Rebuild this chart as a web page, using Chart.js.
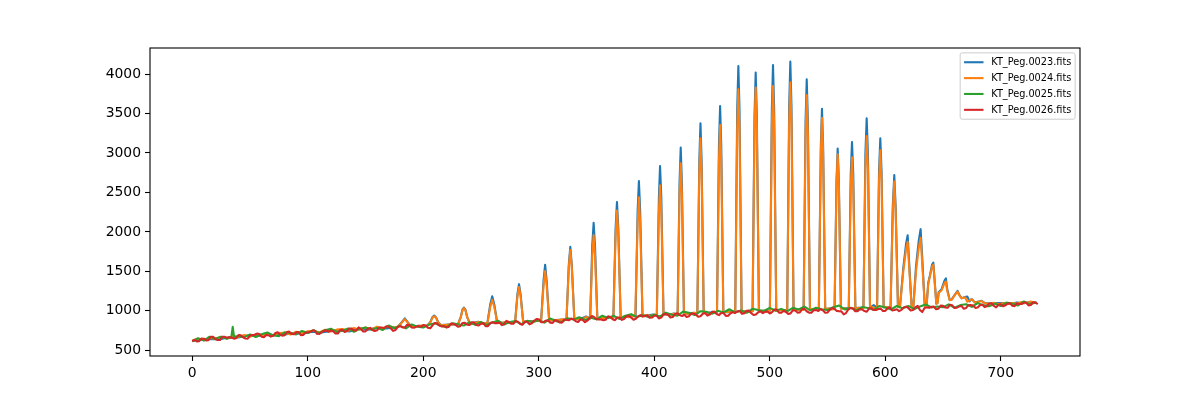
<!DOCTYPE html>
<html><head><meta charset="utf-8">
<script src="https://cdn.jsdelivr.net/npm/chart.js@4.4.0/dist/chart.umd.min.js"></script>
<style>html,body{margin:0;padding:0;background:#fff}canvas{display:block}</style>
</head><body>
<canvas id="c" width="1200" height="400"></canvas>
<script>
// ---------- data ----------
const seriesNames = ["KT_Peg.0023.fits", "KT_Peg.0024.fits", "KT_Peg.0025.fits", "KT_Peg.0026.fits"];
const xTicks = [0, 100, 200, 300, 400, 500, 600, 700];
const yTicks = [500, 1000, 1500, 2000, 2500, 3000, 3500, 4000];

// KT_Peg.0026 (red), sampled every 2 pixels
const redStep = 2;
const redValues = [
  615,632,612,616,650,647,626,629,672,672,644,631,630,672,672,657,666,661,648,654,
  693,690,665,650,647,687,695,696,712,706,673,665,695,692,674,683,719,729,699,686,
  692,732,737,706,705,727,732,692,693,724,728,733,750,750,709,707,730,746,754,735,
  751,742,712,712,756,760,733,746,775,775,750,751,791,772,739,740,770,784,758,745,
  753,790,790,782,805,799,775,746,758,796,807,791,788,824,819,790,785,800,808,797,
  821,814,785,779,817,845,841,813,802,809,790,795,838,837,822,799,805,847,849,825,
  821,856,855,820,815,838,844,805,806,845,856,844,844,852,819,834,873,859,837,836,
  870,863,834,825,861,861,829,843,874,897,894,856,857,875,879,849,848,881,874,852,
  851,887,888,880,902,894,869,859,890,887,856,875,907,934,920,894,892,890,881,888,
  930,922,893,882,916,916,885,900,932,936,915,888,900,930,947,927,936,944,913,915,
  938,939,904,915,956,962,950,916,922,959,969,946,935,950,923,932,965,963,953,925,
  931,963,973,940,952,987,990,960,946,972,972,936,939,968,983,974,993,997,962,971,
  1000,1003,970,947,954,983,994,971,988,991,966,985,1016,1017,976,976,1001,985,961,968,
  1009,1004,978,979,1024,1025,995,977,976,1007,1012,998,1023,1006,976,980,1012,1037,1023,1000,
  996,993,955,972,1018,1035,1033,995,996,1021,1017,997,988,1032,1033,1010,1010,1023,1028,997,
  999,1033,1044,1006,1012,1021,997,1012,1043,1053,1036,1004,1010,1044,1063,1010,985,1035,1044,1038,
  1052,1054,1020,1028,1066,1063,1042,1039,1076,1070,1036,1040,1056,1062,1026,1037,1072,1074,1068,1038,
  1042,1072,1080,1047,1058,1093,1096,1062,1044,1077,1084,1058,1070,1091,1098,1065,1060,1093,1086,1086,
  1105,1105,1069,1074,1109,1106,1085
];

// KT_Peg.0025 (green), sampled every 5 pixels, plus its narrow spike
const greenStep = 5;
const greenValues = [
  615,653,624,672,647,672,645,668,681,667,
  702,668,704,726,690,680,728,719,701,745,
  719,755,716,754,774,732,749,777,735,774,
  788,760,784,758,814,780,810,778,828,800,
  788,825,842,811,793,842,829,814,856,823,
  858,823,852,873,826,857,871,830,873,858,
  881,851,904,870,858,907,889,919,885,914,
  892,938,909,937,897,938,958,922,943,921,
  952,930,977,951,938,990,975,947,996,988,
  963,1000,979,1020,979,1004,975,1026,1011,998,
  1037,1001,1025,992,1038,1018,1054,1006,1039,1019,
  1010,1047,1068,1017,1040,1007,1048,1037,1014,1062,
  1042,1017,1062,1033,1062,1021,1056,1081,1042,1056,
  1046,1082,1039,1073,1084,1050,1098,1069,1059,1092,
  1061,1105,1090,1068,1119,1085,1103
];
const greenSpike = [[33.8, 668], [35, 798], [36.2, 670]];

// KT_Peg.0024 (orange), [pixel, counts]
const orangePoints = [
  [0,620],[5,648],[10,628],[15,655],[20,648],[25,672],[30,652],[35,680],[40,668],[45,695],[50,672],[55,705],[60,683],[65,712],[70,690],[75,718],[80,722],[85,700],[90,735],[95,712],[100,742],[105,748],[110,725],[115,760],[120,738],[125,762],[130,770],[135,748],[140,782],[145,760],[150,790],[155,766],[160,800],[165,775],[170,806],[175,790],
  [178,800],[180.5,835],[182,860],[184,895],[186,860],[188.5,815],[191,800],[195,808],[200,815],
  [203.5,812],[206,850],[208,915],[209.5,932],[211,915],[213,850],[215.5,818],[220,822],[225,830],[229,826],
  [230,828],[232.5,920],[234,1010],[235.2,1035],[236.5,1010],[238,920],[240.5,832],[244,838],[247.5,860],[251,838],[254,845],
  [255.5,845],[258,1050],[259.7,1140],[261.5,1050],[264,850],[268,848],[272,858],[276,852],[279,860],
  [279.5,860],[281.5,1180],[282.9,1302],[284.3,1180],[286.5,862],[290,870],[294,862],[298,875],[301.5,870],
  [302,872],[304.2,1330],[305.5,1505],[306.8,1330],[309,876],[313,888],[317,880],[320,892],[323.5,886],
  [324,888],[326,1550],[327.3,1770],[328.6,1550],[330.8,892],[334,900],[338,893],[341,925],[344,902],
  [344.5,903],[346.3,1700],[347.5,1960],[348.7,1700],[350.7,905],[354,912],[358,905],[361,918],[364,914],
  [364.6,914],[366.5,1950],[367.7,2270],[368.9,1950],[370.9,920],[374,928],[378,920],[381,934],[383.5,930],
  [383.8,930],[385.6,2100],[386.7,2440],[387.8,2100],[389.8,935],[393,945],[397,938],[400,950],
  [402.2,944],[404,2250],[405,2590],[406.1,2250],[408,950],[411,957],[414,950],[417,962],
  [420.2,955],[421.9,2480],[422.9,2870],[423.9,2480],[425.7,962],[429,968],[432,960],[435,975],
  [437.3,966],[439,2750],[440,3185],[441,2750],[442.8,970],[446,978],[449,970],[452,982],
  [454.3,975],[456,2900],[457,3355],[458,2900],[459.8,980],[463,988],[466,978],[468.5,990],
  [470.1,982],[471.8,3300],[472.8,3806],[473.8,3300],[475.6,986],[478.5,995],[481.5,986],
  [485.1,992],[486.8,3320],[487.8,3828],[488.8,3320],[490.6,995],[494,1002],[497,992],
  [500.1,1000],[501.8,3340],[502.8,3849],[503.8,3340],[505.6,1003],[509,1010],[512,1000],
  [515.1,1008],[516.8,3380],[517.8,3896],[518.8,3380],[520.6,1010],[523.5,1018],[526.5,1006],
  [529.3,1014],[531,3240],[532,3735],[533,3240],[534.8,1016],[538,1022],[540.5,1012],
  [542.5,1020],[544.2,2990],[545.2,3445],[546.2,2990],[548,1022],[551,1030],[553.5,1018],
  [556.1,1025],[557.8,2600],[558.8,2985],[559.8,2600],[561.6,1028],[564.5,1034],[566,1022],
  [568.4,1030],[570.1,2560],[571.2,2945],[572.3,2560],[574.1,1033],[577,1040],[579,1028],
  [581.1,1036],[582.8,2800],[583.9,3215],[585,2800],[586.8,1040],[589.5,1046],[591,1032],
  [592.9,1040],[594.6,2640],[595.7,3035],[596.8,2640],[598.6,1045],[601,1048],[603,1038],
  [604.6,1045],[606.5,2250],[607.8,2637],[609,2250],[611,1050],
  [612.7,1046],[615.6,1500],[618,1780],[619.4,1875],[620.5,1600],[622.8,1055],
  [624.3,1050],[626.6,1500],[629,1800],[630.6,1925],[631.8,1650],[634.2,1062],
  [635.8,1070],[637.2,1340],[638.7,1440],[640.5,1560],[641.6,1585],[642.6,1400],[644.2,1090],
  [645.3,1100],[646.2,1225],[648.8,1262],[651.3,1350],[652.5,1372],[653.5,1260],[655.8,1135],
  [657.4,1140],[660,1195],[662.6,1245],[664,1200],[666.1,1158],[669,1172],[671,1115],[674.8,1148],[677.7,1104],[680.5,1112],[683.4,1125],[686.3,1095],
  [690,1090],[694,1102],[698,1085],[702,1096],[706,1088],[710,1100],[714,1090],[718,1112],[722,1098],[726,1118],[730,1102]
];

// KT_Peg.0023 (blue), [pixel, counts]
const bluePoints = [
  [0,618],[8,638],[16,645],[24,640],[32,666],[40,662],[48,688],[56,680],[64,698],[72,690],[80,702],[88,718],[96,712],[104,735],[112,726],[120,744],[128,752],[136,738],[144,772],[152,762],[160,785],[168,778],[176,792],
  [178,800],[180.5,840],[182,868],[184,905],[186,866],[188.5,818],[191,802],[196,812],[201,808],
  [203.5,815],[206,855],[208,922],[209.5,940],[211,920],[213,852],[215.5,820],[222,825],[229,830],
  [230,830],[232.5,925],[234,1018],[235.2,1042],[236.5,1015],[238,922],[240.5,835],[247.5,862],[252,836],
  [255.5,846],[258,1085],[259.7,1185],[261.5,1080],[264,852],[270,850],[276,856],
  [279.5,858],[281.5,1210],[282.9,1338],[284.3,1205],[286.5,860],[292,868],[298,872],
  [302,874],[304.2,1395],[305.5,1585],[306.8,1390],[309,878],[315,885],[321,890],
  [324,890],[326,1585],[327.3,1812],[328.6,1580],[330.8,894],[336,896],[341,928],
  [344.5,905],[346.3,1830],[347.5,2115],[348.7,1825],[350.7,908],[356,910],[361,920],
  [364.6,916],[366.5,2040],[367.7,2380],[368.9,2035],[370.9,922],[376,925],[380,936],
  [383.8,932],[385.6,2270],[386.7,2645],[387.8,2265],[389.8,938],[395,944],[399,952],
  [402.2,946],[404,2440],[405,2835],[406.1,2435],[408,952],[413,955],[417,966],
  [420.2,958],[421.9,2640],[422.9,3070],[423.9,2635],[425.7,965],[431,966],[434,975],
  [437.3,968],[439,2910],[440,3375],[441,2905],[442.8,972],[447,976],[451,984],
  [454.3,978],[456,3100],[457,3595],[458,3095],[459.8,982],[464,984],[467,994],
  [470.1,985],[471.8,3550],[472.8,4102],[473.8,3545],[475.6,988],[480,994],
  [485.1,995],[486.8,3480],[487.8,4018],[488.8,3475],[490.6,998],[495,1000],
  [500.1,1002],[501.8,3560],[502.8,4115],[503.8,3555],[505.6,1005],[510,1008],
  [515.1,1010],[516.8,3600],[517.8,4157],[518.8,3595],[520.6,1012],[525,1015],
  [529.3,1016],[531,3410],[532,3934],[533,3405],[534.8,1018],[539,1020],
  [542.5,1022],[544.2,3090],[545.2,3560],[546.2,3085],[548,1024],[552,1028],
  [556.1,1027],[557.8,2660],[558.8,3055],[559.8,2655],[561.6,1030],[565,1032],
  [568.4,1032],[570.1,2730],[571.2,3140],[572.3,2725],[574.1,1035],[578,1038],
  [581.1,1038],[582.8,2990],[583.9,3438],[585,2985],[586.8,1042],[590,1072],
  [592.9,1042],[594.6,2770],[595.7,3186],[596.8,2765],[598.6,1046],[602,1045],
  [604.6,1046],[606.5,2320],[607.8,2721],[609,2315],[611,1052],
  [612.7,1048],[615.6,1540],[618,1850],[619.4,1958],[620.5,1660],[622.8,1057],
  [624.3,1052],[626.6,1560],[629,1890],[630.6,2035],[631.8,1730],[634.2,1064],
  [635.8,1072],[637.2,1355],[638.7,1452],[640.5,1585],[641.6,1612],[642.6,1415],[644.2,1092],
  [645.3,1102],[646.2,1235],[648.8,1275],[651.3,1385],[652.5,1412],[653.5,1285],[655.8,1138],
  [657.4,1142],[660,1200],[662.6,1252],[664,1205],[666.1,1160],[669,1175],[671,1182],[673,1120],[674.8,1150],[677.7,1106],[683.4,1128],[686.3,1098],
  [690,1094],[696,1100],[702,1098],[708,1086],[714,1105],[720,1096],[726,1112],[731,1104]
];

// ---------- styles ----------
const colors = ["#1f77b4", "#ff7f0e", "#2ca02c", "#d62728"];
const FONT = '"DejaVu Sans", "Liberation Sans", sans-serif';

const pairsToXY = p => p.map(([x, y]) => ({x, y}));
const stepToXY = (vals, step) => vals.map((v, i) => ({x: i * step, y: v}));
const greenData = stepToXY(greenValues, greenStep)
  .filter(p => !greenSpike.some(s => s[0] === p.x))
  .concat(pairsToXY(greenSpike))
  .sort((a, b) => a.x - b.x);

const framePlugin = {
  id: 'mplFrame',
  afterDatasetsDraw(chart) {
    const {ctx, chartArea: a} = chart;
    ctx.save();
    ctx.strokeStyle = '#000';
    ctx.lineWidth = 1.1;
    ctx.strokeRect(a.left, a.top, a.right - a.left, a.bottom - a.top);
    ctx.restore();
  }
};

const legendPlugin = {
  id: 'mplLegend',
  afterDraw(chart) {
    const {ctx, chartArea: a} = chart;
    const fs = 9.72;
    ctx.save();
    ctx.font = fs + 'px ' + FONT;
    const axPad = 0.5 * fs, bp = 0.4 * fs, hl = 2 * fs, htp = 0.8 * fs, rowH = 11, gap = 0.5 * fs;
    const textW = Math.max(...seriesNames.map(n => ctx.measureText(n).width));
    const w = bp + hl + htp + textW + bp;
    const h = 2 * bp + seriesNames.length * rowH + (seriesNames.length - 1) * gap;
    const right = a.right - axPad, top = a.top + axPad, left = right - w;
    const r = 2;
    ctx.beginPath();
    ctx.moveTo(left + r, top);
    ctx.lineTo(right - r, top); ctx.arcTo(right, top, right, top + r, r);
    ctx.lineTo(right, top + h - r); ctx.arcTo(right, top + h, right - r, top + h, r);
    ctx.lineTo(left + r, top + h); ctx.arcTo(left, top + h, left, top + h - r, r);
    ctx.lineTo(left, top + r); ctx.arcTo(left, top, left + r, top, r);
    ctx.closePath();
    ctx.fillStyle = 'rgba(255,255,255,0.8)';
    ctx.fill();
    ctx.strokeStyle = '#cccccc';
    ctx.lineWidth = 1;
    ctx.stroke();
    seriesNames.forEach((name, i) => {
      const cy = top + bp + rowH / 2 + i * (rowH + gap);
      ctx.beginPath();
      ctx.moveTo(left + bp, cy);
      ctx.lineTo(left + bp + hl, cy);
      ctx.strokeStyle = colors[i];
      ctx.lineWidth = 2.08;
      ctx.stroke();
      ctx.fillStyle = '#000';
      ctx.textBaseline = 'middle';
      ctx.textAlign = 'left';
      ctx.fillText(name, left + bp + hl + htp, cy + 0.5);
    });
    ctx.restore();
  }
};

const tickStyle = {
  autoSkip: false, maxRotation: 0, minRotation: 0, color: '#000',
  font: {family: FONT, size: 13.9}, padding: 4, callback: v => String(v)
};
const gridStyle = {drawOnChartArea: false, drawTicks: true, tickLength: 5, tickColor: '#000', tickWidth: 1.1, color: '#000'};

new Chart(document.getElementById('c'), {
  type: 'line',
  data: {
    datasets: [
      {label: seriesNames[0], data: pairsToXY(bluePoints), borderColor: colors[0], order: 4},
      {label: seriesNames[1], data: pairsToXY(orangePoints), borderColor: colors[1], order: 3},
      {label: seriesNames[2], data: greenData, borderColor: colors[2], order: 2},
      {label: seriesNames[3], data: stepToXY(redValues, redStep), borderColor: colors[3], order: 1}
    ]
  },
  options: {
    responsive: false,
    animation: false,
    devicePixelRatio: 1,
    events: [],
    layout: {padding: {top: 48, right: 120, left: 0, bottom: 0}},
    elements: {
      point: {radius: 0, hoverRadius: 0},
      line: {borderWidth: 2.08, tension: 0, fill: false, borderJoinStyle: 'round', borderCapStyle: 'butt'}
    },
    plugins: {legend: {display: false}, tooltip: {enabled: false}},
    scales: {
      x: {
        type: 'linear', min: -36.6, max: 768.6,
        afterBuildTicks: s => { s.ticks = xTicks.map(v => ({value: v})); },
        afterFit: s => { s.height = 44; },
        ticks: tickStyle, grid: gridStyle, border: {display: false}
      },
      y: {
        type: 'linear', min: 428, max: 4330,
        afterBuildTicks: s => { s.ticks = yTicks.map(v => ({value: v})); },
        afterFit: s => { s.width = 150; },
        ticks: tickStyle, grid: gridStyle, border: {display: false}
      }
    }
  },
  plugins: [framePlugin, legendPlugin]
});
</script>
</body></html>
